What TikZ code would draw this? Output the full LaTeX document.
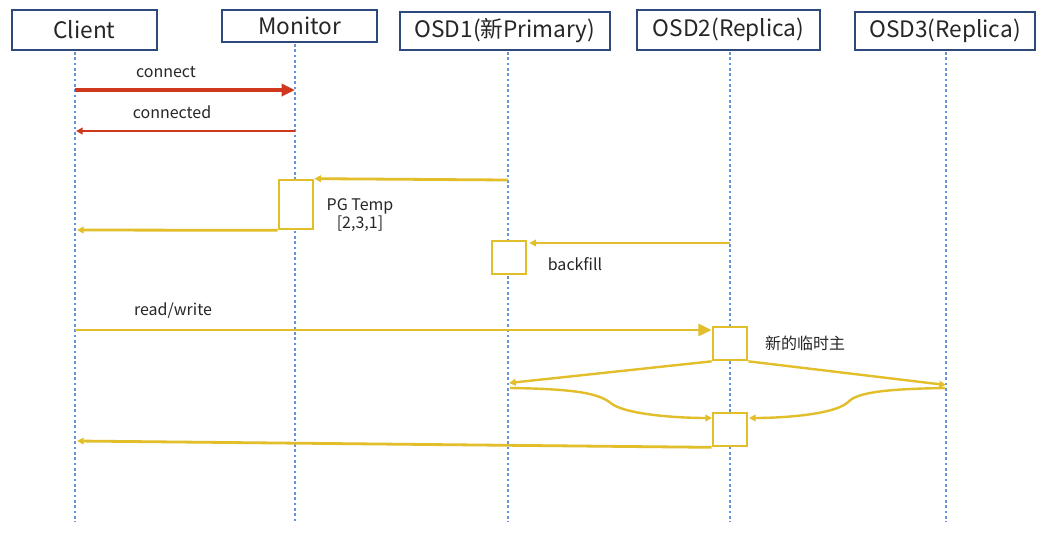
\documentclass[tikz,border=0pt]{standalone}
\usepackage{fontspec}
\setmainfont{Noto Sans CJK SC}
\usetikzlibrary{arrows.meta}
\definecolor{ylw}{RGB}{226,190,42}
\definecolor{rd}{RGB}{208,56,30}
\definecolor{hdr}{RGB}{46,74,125}
\definecolor{life}{RGB}{100,150,215}
\begin{document}
\begin{tikzpicture}[x=0.75pt,y=-0.75pt,
  head/.style={draw=hdr,line width=1.5pt,fill=white,text=black!85,font=\fontsize{17}{20}\selectfont,inner sep=0pt},
  act/.style={draw=ylw,line width=2pt,fill=white,inner sep=0pt,minimum width=25.5pt},
  lifeline/.style={draw=life,line width=0.8pt,dash pattern=on 2pt off 2pt},
  msgy/.style={draw=ylw,line width=2.1pt},
  msgr/.style={draw=rd},
  bighead/.style={-{Triangle[length=10pt,width=9pt]}},
  smallhead/.style={-{Triangle[length=5pt,width=5pt]}},
  lbl/.style={font=\fontsize{12}{14}\selectfont,text=black!85,inner sep=0pt}]
\useasboundingbox (0,0) rectangle (1049,543);
\fill[white] (0,0) rectangle (1049,543);

% lifelines
\coordinate (lc) at (75,52);   \coordinate (lce) at (75,522);
\coordinate (lm) at (295,44);  \coordinate (lme) at (295,522);
\coordinate (l1) at (508,52);  \coordinate (l1e) at (508,522);
\coordinate (l2) at (730,52);  \coordinate (l2e) at (730,522);
\coordinate (l3) at (946,52);  \coordinate (l3e) at (946,522);
\foreach \a/\b in {lc/lce,lm/lme,l1/l1e,l2/l2e,l3/l3e} \draw[lifeline] (\a) -- (\b);

% headers
\node[head,minimum width=108.75pt,minimum height=30pt] (client) at (84.5,30) {Client};
\node[head,minimum width=116.25pt,minimum height=24pt] (monitor) at (299.5,26) {Monitor};
\node[head,minimum width=157.5pt,minimum height=28.5pt] (osd1) at (505,31) {OSD1(新Primary)};
\node[head,minimum width=137.25pt,minimum height=30pt] (osd2) at (728.5,30) {OSD2(Replica)};
\node[head,minimum width=135pt,minimum height=28.5pt] (osd3) at (945,31) {OSD3(Replica)};

% activation boxes
\node[act,minimum height=36.75pt] (mact) at (296,204.5) {};
\node[act,minimum height=24.75pt] (oact) at (509,257.5) {};
\node[act,minimum height=24.75pt] (pact1) at (730,343.5) {};
\node[act,minimum height=24.75pt] (pact2) at (730,429.5) {};

% red messages
\coordinate (c1) at (75,90);  \coordinate (m1) at (295,90);
\draw[msgr,line width=2.8pt,bighead] (c1) -- (m1);
\node[lbl] (lconnect) at (166,72) {connect};
\coordinate (m2) at (295,131); \coordinate (c2) at (76,131);
\draw[msgr,line width=1.5pt,smallhead] (m2) -- (c2);
\node[lbl] (lconnected) at (172,112) {connected};

% PG temp
\coordinate (o1) at (508,180);
\draw[msgy,smallhead] (o1) -- (mact.north east);
\coordinate (c3) at (77,230);
\draw[msgy,smallhead] (mact.south west) -- (c3);
\node[lbl,align=center] (lpg) at (360,215) {PG Temp\\{}[2,3,1]};

% backfill
\coordinate (p1) at (730,243);
\draw[msgy,smallhead] (p1) -- ([xshift=1.5pt]oact.north east |- p1);
\node[lbl] (lbf) at (575,264) {backfill};

% read/write
\coordinate (c4) at (75,330);
\draw[msgy,bighead] (c4) -- (pact1.north west |- c4);
\node[lbl] (lrw) at (173,311) {read/write};
\node[lbl] (lnew) at (805,343) {新的临时主};

% fork to replicas
\coordinate (o2) at (509,383);
\coordinate (o3) at (946,385);
\draw[msgy,line width=1.8pt,smallhead] (pact1.south west) -- (o2);
\draw[msgy,line width=1.8pt,smallhead] (pact1.south east) -- (o3);

% returns
\coordinate (o4) at (510,388);
\coordinate (o5) at (945,388);
\coordinate (r1) at (712,418);
\coordinate (r2) at (749,418);
\draw[msgy,line width=1.8pt,smallhead] (o4) .. controls (580,389) and (600,394) .. (612,404) .. controls (628,415) and (680,418) .. (r1);
\draw[msgy,line width=1.8pt,smallhead] (o5) .. controls (875,389) and (855,394) .. (847,403) .. controls (832,415) and (780,418) .. (r2);

% reply to client
\coordinate (c5) at (77,441);
\draw[msgy,smallhead] (pact2.south west) -- (c5);
\end{tikzpicture}
\end{document}
